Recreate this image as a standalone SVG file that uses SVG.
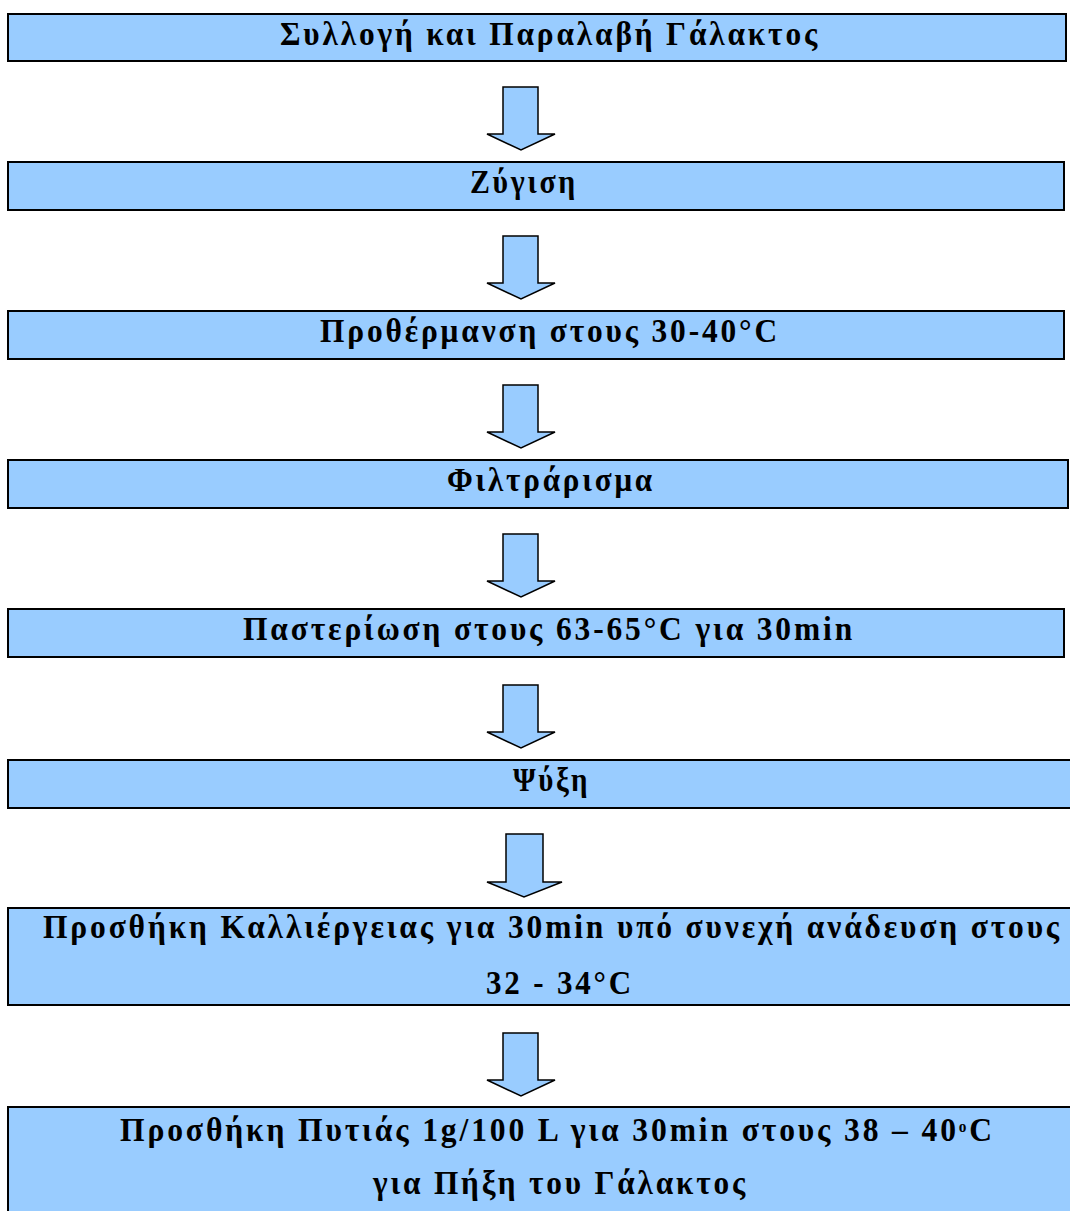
<svg xmlns="http://www.w3.org/2000/svg" width="1070" height="1211" viewBox="0 0 1070 1211">
<style>
.box{fill:#99CCFF;stroke:#000;stroke-width:2}
.arr{fill:#99CCFF;stroke:#000;stroke-width:1.5;stroke-linejoin:miter}
.t{font-family:"Liberation Serif","Times New Roman",serif;font-weight:bold;font-size:33px;letter-spacing:3px;fill:#000;text-anchor:start}
.sup{font-size:16px;baseline-shift:9px}
</style>
<rect width="1070" height="1211" fill="#fff"/>
<g id="connectors">
<polygon class="arr" points="503,87 538,87 538,134 555,134 521,150 487,134 503,134"/>
<polygon class="arr" points="503,236 538,236 538,283 555,283 521,299 487,283 503,283"/>
<polygon class="arr" points="503,385 538,385 538,432 555,432 521,448 487,432 503,432"/>
<polygon class="arr" points="503,534 538,534 538,581 555,581 521,597 487,581 503,581"/>
<polygon class="arr" points="503,685 538,685 538,732 555,732 521,748 487,732 503,732"/>
<polygon class="arr" points="506,834 543,834 543,882 562,882 524,897 487,882 506,882"/>
<polygon class="arr" points="503,1033 538,1033 538,1080 555,1080 521,1096 487,1080 503,1080"/>
</g>
<g id="n1"><rect class="box" x="8" y="14" width="1058" height="47"/>
<text class="t" x="280" y="45" textLength="540" lengthAdjust="spacingAndGlyphs">Συλλογή και Παραλαβή Γάλακτος</text></g>
<g id="n2"><rect class="box" x="8" y="162" width="1056" height="48"/>
<text class="t" x="470" y="193" textLength="108" lengthAdjust="spacingAndGlyphs">Ζύγιση</text></g>
<g id="n3"><rect class="box" x="8" y="311" width="1056" height="48"/>
<text class="t" x="320" y="342" textLength="460" lengthAdjust="spacingAndGlyphs">Προθέρμανση στους 30-40°C</text></g>
<g id="n4"><rect class="box" x="8" y="460" width="1060" height="48"/>
<text class="t" x="447" y="491" textLength="208" lengthAdjust="spacingAndGlyphs">Φιλτράρισμα</text></g>
<g id="n5"><rect class="box" x="8" y="609" width="1056" height="48"/>
<text class="t" x="243" y="640" textLength="612" lengthAdjust="spacingAndGlyphs">Παστερίωση στους 63-65°C για 30min</text></g>
<g id="n6"><rect class="box" x="8" y="760" width="1070" height="48"/>
<text class="t" x="513" y="791" textLength="77" lengthAdjust="spacingAndGlyphs">Ψύξη</text></g>
<g id="n7"><rect class="box" x="8" y="908" width="1070" height="97"/>
<text class="t" x="43" y="938" textLength="1019" lengthAdjust="spacingAndGlyphs">Προσθήκη Καλλιέργειας για 30min υπό συνεχή ανάδευση στους</text>
<text class="t" x="486" y="994" textLength="148" lengthAdjust="spacingAndGlyphs">32 - 34°C</text></g>
<g id="n8"><rect class="box" x="8" y="1107" width="1070" height="120"/>
<text class="t" x="120" y="1141" textLength="875" lengthAdjust="spacingAndGlyphs">Προσθήκη Πυτιάς 1g/100 L για 30min στους 38 – 40<tspan class="sup">ο</tspan>C</text>
<text class="t" x="373" y="1194" textLength="375" lengthAdjust="spacingAndGlyphs">για Πήξη του Γάλακτος</text></g>
</svg>
